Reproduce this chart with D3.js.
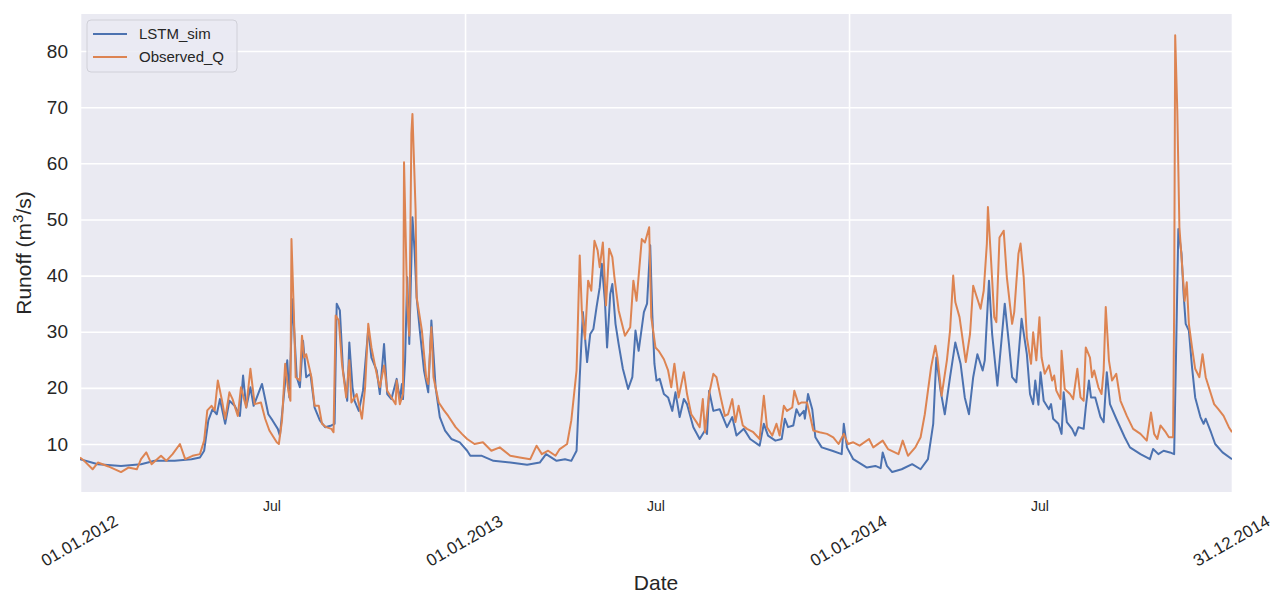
<!DOCTYPE html>
<html>
<head>
<meta charset="utf-8">
<script src="https://cdn.jsdelivr.net/npm/d3@7"></script>
<style>
  body { margin: 0; background: #fff; }
  text { font-family: "Liberation Sans", Arial, sans-serif; fill: #262626; }
</style>
</head>
<body>
<div id="chart"></div>
<script>
// series names and colours (seaborn "deep")
var seriesNames = ["LSTM_sim", "Observed_Q"];
var seriesColors = ["#4c72b0", "#dd8452"];

// days since 01.01.2012
var simDay = [0,17,39,58,71,90,106,114,118,122,126,130,133,138,142,147,152,155,158,162,165,173,179,183,188,190,193,197,199,202,206,209,212,215,219,223,228,233,239,242,244,247,250,254,256,259,261,265,269,274,277,282,285,289,292,296,301,304,306,307,309,311,313,316,318,320,323,327,331,334,338,342,347,353,361,368,371,382,393,409,425,437,443,453,461,467,472,475,478,482,485,488,491,494,496,499,501,504,506,509,512,516,521,525,528,531,536,539,542,544,546,548,551,555,559,563,566,570,574,577,583,589,594,596,598,602,608,615,620,624,631,637,646,650,654,661,667,670,673,678,681,684,688,689,692,696,699,705,715,724,726,729,735,748,756,761,763,767,772,781,791,799,806,811,814,818,822,827,832,837,841,845,849,853,858,860,864,867,872,876,879,883,886,890,895,900,903,906,908,911,913,916,921,923,925,930,933,935,938,943,946,949,954,956,959,961,965,970,973,976,979,985,993,998,1008,1017,1020,1025,1030,1036,1040,1042,1044,1047,1049,1051,1054,1057,1060,1065,1068,1070,1075,1079,1086,1095];
var simQ = [7.3,6.4,6.1,6.4,7.0,7.0,7.3,7.6,8.8,14.2,16.2,15.3,18.0,13.6,17.7,16.8,15.0,22.2,16.5,20.1,16.8,20.7,15.3,14.2,12.7,11.5,17.1,24.9,18.3,35.8,21.9,20.1,28.4,21.9,22.5,16.5,14.2,13.0,13.3,13.6,35.0,33.8,23.1,17.7,28.1,20.1,17.7,15.9,19.5,30.5,25.4,23.1,18.9,27.8,18.9,18.0,21.6,18.0,20.7,18.0,24.9,39.7,27.8,50.4,44.5,36.1,30.2,23.1,19.2,32.0,20.1,14.8,12.4,10.9,10.3,8.8,7.9,7.9,7.0,6.7,6.3,6.7,8.2,7.0,7.3,7.0,8.8,21.9,33.5,24.6,29.6,30.5,34.4,37.9,42.1,35.3,27.2,36.7,38.5,31.4,27.8,23.4,19.8,21.9,30.2,26.6,33.5,35.0,45.4,33.0,24.3,21.3,21.6,18.9,18.3,15.9,19.2,14.8,18.0,17.1,13.0,10.9,12.4,11.8,19.5,15.9,16.2,13.0,14.8,11.5,12.7,10.9,9.7,13.6,11.5,10.6,10.9,14.5,13.0,13.3,16.2,15.0,15.9,14.5,18.9,16.2,11.2,9.4,8.8,8.2,13.6,9.4,7.3,5.8,6.1,5.7,8.5,6.1,5.0,5.5,6.4,5.5,7.3,13.6,25.4,19.5,15.3,21.9,28.1,24.3,18.3,15.3,21.9,26.0,23.1,24.9,39.1,29.6,20.4,28.7,35.0,27.8,21.9,21.0,32.3,26.0,18.9,17.1,21.3,17.0,22.8,17.7,16.2,17.1,14.5,13.6,11.8,19.2,13.9,12.7,11.5,13.0,12.7,16.5,21.3,18.3,18.3,14.8,13.9,22.8,17.1,14.5,11.2,9.4,8.2,7.3,9.1,8.2,8.8,8.5,8.2,27.8,48.3,43.9,36.7,31.4,30.2,23.7,18.3,14.8,13.6,14.5,12.1,10.0,8.5,7.3];

var obsDay = [0,4,12,17,27,39,46,54,58,63,68,77,82,88,95,100,107,114,118,121,125,128,131,135,138,142,145,150,153,158,162,166,172,176,180,187,189,192,195,198,200,201,203,205,209,211,213,215,220,223,227,230,234,239,241,243,246,249,253,256,258,263,268,271,274,277,282,285,289,292,296,300,301,304,307,308,311,313,315,316,319,320,325,329,331,334,336,341,346,350,357,363,368,375,383,391,399,409,418,428,434,439,445,452,456,463,467,472,475,477,480,483,486,489,492,494,497,500,503,506,508,512,518,523,526,529,534,537,541,543,547,550,555,559,562,565,569,574,577,581,586,589,592,594,598,602,605,609,613,616,620,623,626,630,634,640,646,650,653,658,662,665,669,672,677,679,683,686,691,694,697,703,710,716,721,726,730,735,741,750,754,763,768,778,782,787,794,799,803,809,813,815,819,824,827,830,832,836,842,846,849,852,856,859,862,863,866,869,871,874,878,881,886,888,892,894,897,900,904,906,909,912,914,917,921,924,926,928,932,933,936,941,944,948,951,954,956,960,962,964,968,971,973,975,978,981,985,989,995,1001,1008,1014,1018,1021,1024,1027,1032,1035,1039,1040,1041,1043,1045,1047,1050,1052,1054,1057,1060,1064,1067,1070,1075,1078,1082,1087,1092,1095];
var obsQ = [7.6,7.0,5.5,6.7,6.0,5.0,5.8,5.5,7.3,8.5,6.4,7.9,7.0,8.2,10.0,7.3,7.9,8.2,10.6,16.0,16.8,16.0,21.3,17.7,14.5,19.2,18.0,15.0,20.1,16.5,23.4,17.1,17.4,14.5,12.4,10.3,10.0,14.2,24.3,19.5,17.7,46.5,35.0,21.9,21.3,29.3,25.4,26.0,21.9,16.8,16.8,13.6,13.0,12.7,12.1,32.9,32.0,24.3,18.3,24.9,17.4,18.9,14.5,20.1,31.4,27.2,22.5,20.1,24.0,19.5,18.3,17.1,21.3,17.1,18.9,60.2,35.0,29.3,65.3,68.8,51.6,36.1,30.2,21.9,20.7,30.8,21.9,17.4,16.0,15.0,13.0,11.8,10.9,10.0,10.3,8.8,9.4,7.9,7.6,7.3,9.7,8.2,8.8,7.9,9.1,10.0,14.2,23.1,43.6,33.8,28.7,39.1,37.3,46.2,44.5,41.5,45.9,34.7,44.8,43.3,39.7,33.8,29.3,30.8,39.1,35.5,46.5,45.9,48.6,32.6,27.2,26.6,25.1,23.1,20.1,24.3,18.3,22.8,18.9,15.3,13.9,13.0,18.0,12.1,18.9,22.5,21.9,18.3,15.0,15.3,18.0,13.9,16.8,13.3,12.7,12.1,10.9,18.6,13.0,11.5,13.6,11.5,16.8,15.9,16.5,19.5,17.1,17.4,17.4,15.0,12.4,12.1,11.8,11.2,10.0,11.8,10.0,10.3,9.7,10.9,9.4,10.6,9.1,8.2,10.6,7.9,9.4,11.2,15.3,23.7,27.5,25.4,18.6,24.9,30.2,40.0,35.3,32.6,24.6,29.6,38.2,36.4,34.1,37.3,45.7,52.2,42.7,32.6,31.7,46.8,48.0,39.7,31.4,33.5,43.9,45.7,39.7,29.0,24.3,29.9,24.9,32.6,25.4,22.5,24.0,21.3,22.2,19.5,18.0,26.6,19.8,18.9,18.0,23.4,18.3,17.7,27.2,25.4,21.9,23.1,20.1,18.9,23.1,34.4,24.9,21.3,22.5,17.7,15.0,12.7,11.8,10.6,15.6,11.8,10.9,13.3,12.1,11.2,11.2,33.8,82.8,69.4,48.6,43.3,35.5,38.8,31.4,27.2,23.4,21.9,26.0,21.9,18.9,17.1,16.2,15.0,13.0,12.1];

// ticks
var yTicks = [10, 20, 30, 40, 50, 60, 70, 80];
var majorTicks = ["2012-01-01", "2013-01-01", "2014-01-01", "2014-12-31"];
var minorTicks = ["2012-07-01", "2013-07-01", "2014-07-01"];
var minorLabel = "Jul";

var W = 1273, H = 594;
var margin = { left: 80, right: 41, top: 14, bottom: 102 };
var width = W - margin.left - margin.right;
var height = H - margin.top - margin.bottom;

var parse = d3.timeParse("%Y-%m-%d");
var start = parse("2012-01-01");

var x = d3.scaleTime()
  .domain([start, parse("2014-12-31")])
  .range([0, width]);
var y = d3.scaleLinear()
  .domain([1.45, 86.6])
  .range([height, 0]);

var svg = d3.select("#chart").append("svg")
  .attr("width", W)
  .attr("height", H);

var g = svg.append("g")
  .attr("transform", "translate(" + margin.left + "," + margin.top + ")");

g.append("rect")
  .attr("width", width)
  .attr("height", height)
  .attr("fill", "#eaeaf2");

// y grid + labels
var yAxis = g.append("g")
  .call(d3.axisLeft(y).tickValues(yTicks).tickSize(-width).tickPadding(12));
yAxis.select(".domain").remove();
yAxis.selectAll("line").attr("stroke", "#fff").attr("stroke-width", 1.6);
yAxis.selectAll("text").style("font-size", "19px").attr("fill", "#262626");

// x major grid + labels
var fmt = d3.timeFormat("%d.%m.%Y");
var xMajor = g.append("g")
  .attr("transform", "translate(0," + height + ")")
  .call(d3.axisBottom(x).tickValues(majorTicks.map(parse)).tickSize(-height).tickFormat(fmt));
xMajor.select(".domain").remove();
xMajor.selectAll("line").attr("stroke", "#fff").attr("stroke-width", 1.6);
xMajor.selectAll("text")
  .attr("y", 0)
  .attr("dy", null)
  .attr("text-anchor", "middle")
  .attr("dominant-baseline", "central")
  .attr("transform", "translate(-1,49) rotate(-30)")
  .style("font-size", "17px");

// x minor labels
var xMinor = g.append("g")
  .attr("transform", "translate(0," + height + ")")
  .call(d3.axisBottom(x).tickValues(minorTicks.map(parse)).tickSize(0).tickPadding(9)
    .tickFormat(function() { return minorLabel; }));
xMinor.select(".domain").remove();
xMinor.selectAll("text").style("font-size", "14px");

// lines
var series = [
  { name: seriesNames[0], color: seriesColors[0], days: simDay, q: simQ },
  { name: seriesNames[1], color: seriesColors[1], days: obsDay, q: obsQ }
];

g.append("clipPath").attr("id", "clip")
  .append("rect").attr("width", width).attr("height", height);

var line = d3.line()
  .x(function(d) { return x(d.date); })
  .y(function(d) { return y(d.value); });

series.forEach(function(s) {
  var pts = s.days.map(function(d, i) {
    return { date: d3.timeDay.offset(start, d), value: s.q[i] };
  });
  g.append("path")
    .datum(pts)
    .attr("clip-path", "url(#clip)")
    .attr("fill", "none")
    .attr("stroke", s.color)
    .attr("stroke-width", 2)
    .attr("stroke-linejoin", "round")
    .attr("d", line);
});

// axis titles
svg.append("text")
  .attr("x", margin.left + width / 2)
  .attr("y", 590)
  .attr("text-anchor", "middle")
  .style("font-size", "21px")
  .text("Date");

var yl = svg.append("text")
  .attr("transform", "translate(31," + (margin.top + height / 2) + ") rotate(-90)")
  .attr("text-anchor", "middle")
  .style("font-size", "21px");
yl.append("tspan").text("Runoff (m");
yl.append("tspan").attr("dy", -8).style("font-size", "15px").text("3");
yl.append("tspan").attr("dy", 8).text("/s)");

// legend
var lg = g.append("g").attr("transform", "translate(7,6)");
lg.append("rect")
  .attr("width", 150)
  .attr("height", 52)
  .attr("rx", 4)
  .attr("fill", "#eaeaf2")
  .attr("fill-opacity", 0.8)
  .attr("stroke", "#d0d0d8");
var items = lg.selectAll(".item").data(series).enter().append("g")
  .attr("transform", function(d, i) { return "translate(0," + (14 + i * 23) + ")"; });
items.append("line")
  .attr("x1", 6).attr("x2", 40)
  .attr("stroke", function(d) { return d.color; })
  .attr("stroke-width", 2);
items.append("text")
  .attr("x", 52)
  .attr("dy", "0.35em")
  .style("font-size", "15px")
  .text(function(d) { return d.name; });
</script>
</body>
</html>
